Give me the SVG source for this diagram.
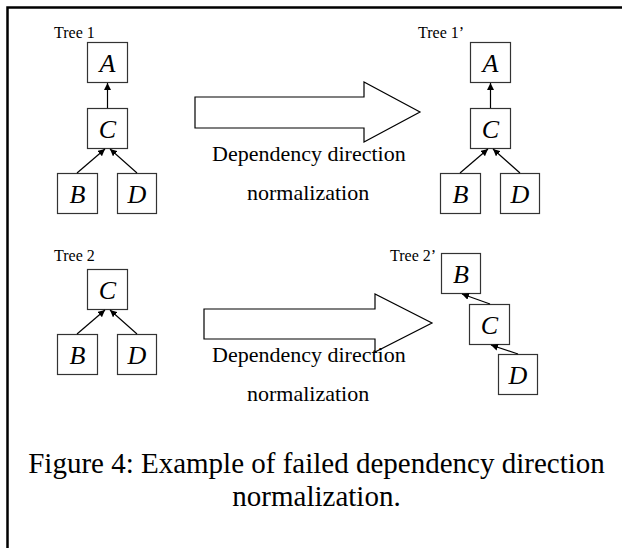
<svg xmlns="http://www.w3.org/2000/svg" width="622" height="548" viewBox="0 0 622 548">
  <style>
    .box { fill: #fff; stroke: #333; stroke-width: 1.2; }
    .node-label { font-family: "Liberation Serif", "Times New Roman", serif; font-style: italic; font-size: 26px; text-anchor: middle; fill: #000; }
    .tree-label { font-family: "Liberation Serif", "Times New Roman", serif; font-size: 16px; fill: #000; }
    .edge { stroke: #000; stroke-width: 1.2; fill: none; marker-end: url(#head); }
    .big-arrow { fill: #fff; stroke: #000; stroke-width: 1.2; }
    .step { font-family: "Liberation Serif", "Times New Roman", serif; font-size: 22px; fill: #000; }
    .caption { font-family: "Liberation Serif", "Times New Roman", serif; font-size: 29px; text-anchor: middle; fill: #000; }
  </style>
  <defs>
    <marker id="head" viewBox="0 0 10 10" refX="10" refY="5" markerWidth="7" markerHeight="7" markerUnits="userSpaceOnUse" orient="auto">
      <path d="M0,0 L10,5 L0,10 z" fill="#000"/>
    </marker>
  </defs>

  <!-- frame -->
  <path d="M7.5,548 V7.5 H622" fill="none" stroke="#000" stroke-width="2.5"/>

  <!-- tree labels -->
  <text class="tree-label" x="54" y="38">Tree 1</text>
  <text class="tree-label" x="418" y="38">Tree 1’</text>
  <text class="tree-label" x="54" y="261">Tree 2</text>
  <text class="tree-label" x="390" y="261">Tree 2’</text>

  <!-- Tree 1 -->
  <g id="t1-A"><rect class="box" x="87.5" y="42.5" width="40" height="40"/><text class="node-label" x="107.5" y="72">A</text></g>
  <g id="t1-C"><rect class="box" x="87.5" y="108.5" width="40" height="40"/><text class="node-label" x="107.5" y="138">C</text></g>
  <g id="t1-B"><rect class="box" x="57.5" y="173.5" width="40" height="40"/><text class="node-label" x="77.5" y="203">B</text></g>
  <g id="t1-D"><rect class="box" x="117.5" y="173.5" width="39" height="40"/><text class="node-label" x="137" y="203">D</text></g>

  <!-- Tree 1' -->
  <g id="t1p-A"><rect class="box" x="470.5" y="42.5" width="40" height="40"/><text class="node-label" x="490.5" y="72">A</text></g>
  <g id="t1p-C"><rect class="box" x="470.5" y="108.5" width="40" height="40"/><text class="node-label" x="490.5" y="138">C</text></g>
  <g id="t1p-B"><rect class="box" x="440.5" y="173.5" width="40" height="40"/><text class="node-label" x="460.5" y="203">B</text></g>
  <g id="t1p-D"><rect class="box" x="500.5" y="173.5" width="39" height="40"/><text class="node-label" x="520" y="203">D</text></g>

  <!-- Tree 2 -->
  <g id="t2-C"><rect class="box" x="87.5" y="269.5" width="40" height="40"/><text class="node-label" x="107.5" y="299">C</text></g>
  <g id="t2-B"><rect class="box" x="57.5" y="334.5" width="40" height="40"/><text class="node-label" x="77.5" y="364">B</text></g>
  <g id="t2-D"><rect class="box" x="117.5" y="334.5" width="39" height="40"/><text class="node-label" x="137" y="364">D</text></g>

  <!-- Tree 2' -->
  <g id="t2p-B"><rect class="box" x="441.5" y="253.5" width="39" height="40"/><text class="node-label" x="461" y="283">B</text></g>
  <g id="t2p-C"><rect class="box" x="469.5" y="304.5" width="40" height="40"/><text class="node-label" x="489.5" y="334">C</text></g>
  <g id="t2p-D"><rect class="box" x="498.5" y="354.5" width="39" height="40"/><text class="node-label" x="518" y="384">D</text></g>

  <!-- dependency edges -->
  <g id="connectors">
    <line class="edge" x1="107.5" y1="108" x2="107.5" y2="83"/>
    <line class="edge" x1="77" y1="173" x2="105" y2="149"/>
    <line class="edge" x1="137" y1="173" x2="110" y2="149"/>

    <line class="edge" x1="490.5" y1="108" x2="490.5" y2="83"/>
    <line class="edge" x1="460" y1="173" x2="488" y2="149"/>
    <line class="edge" x1="520" y1="173" x2="493" y2="149"/>

    <line class="edge" x1="77" y1="334" x2="105" y2="310"/>
    <line class="edge" x1="137" y1="334" x2="110" y2="310"/>

    <line class="edge" x1="490" y1="304" x2="462" y2="294"/>
    <line class="edge" x1="518" y1="354" x2="491" y2="345"/>
  </g>

  <!-- transformation arrows -->
  <g id="step-1">
    <polygon class="big-arrow" points="195,97 364,97 364,82 420,112 364,142 364,128 195,128"/>
    <text class="step" x="212" y="161">Dependency direction</text>
    <text class="step" x="247" y="200">normalization</text>
  </g>
  <g id="step-2">
    <polygon class="big-arrow" points="204,309 375,309 375,294 432,323 375,352 375,339 204,339"/>
    <text class="step" x="212" y="362">Dependency direction</text>
    <text class="step" x="247" y="401">normalization</text>
  </g>

  <!-- caption -->
  <text class="caption" x="316.5" y="473">Figure 4: Example of failed dependency direction</text>
  <text class="caption" x="316.5" y="506">normalization.</text>
</svg>
